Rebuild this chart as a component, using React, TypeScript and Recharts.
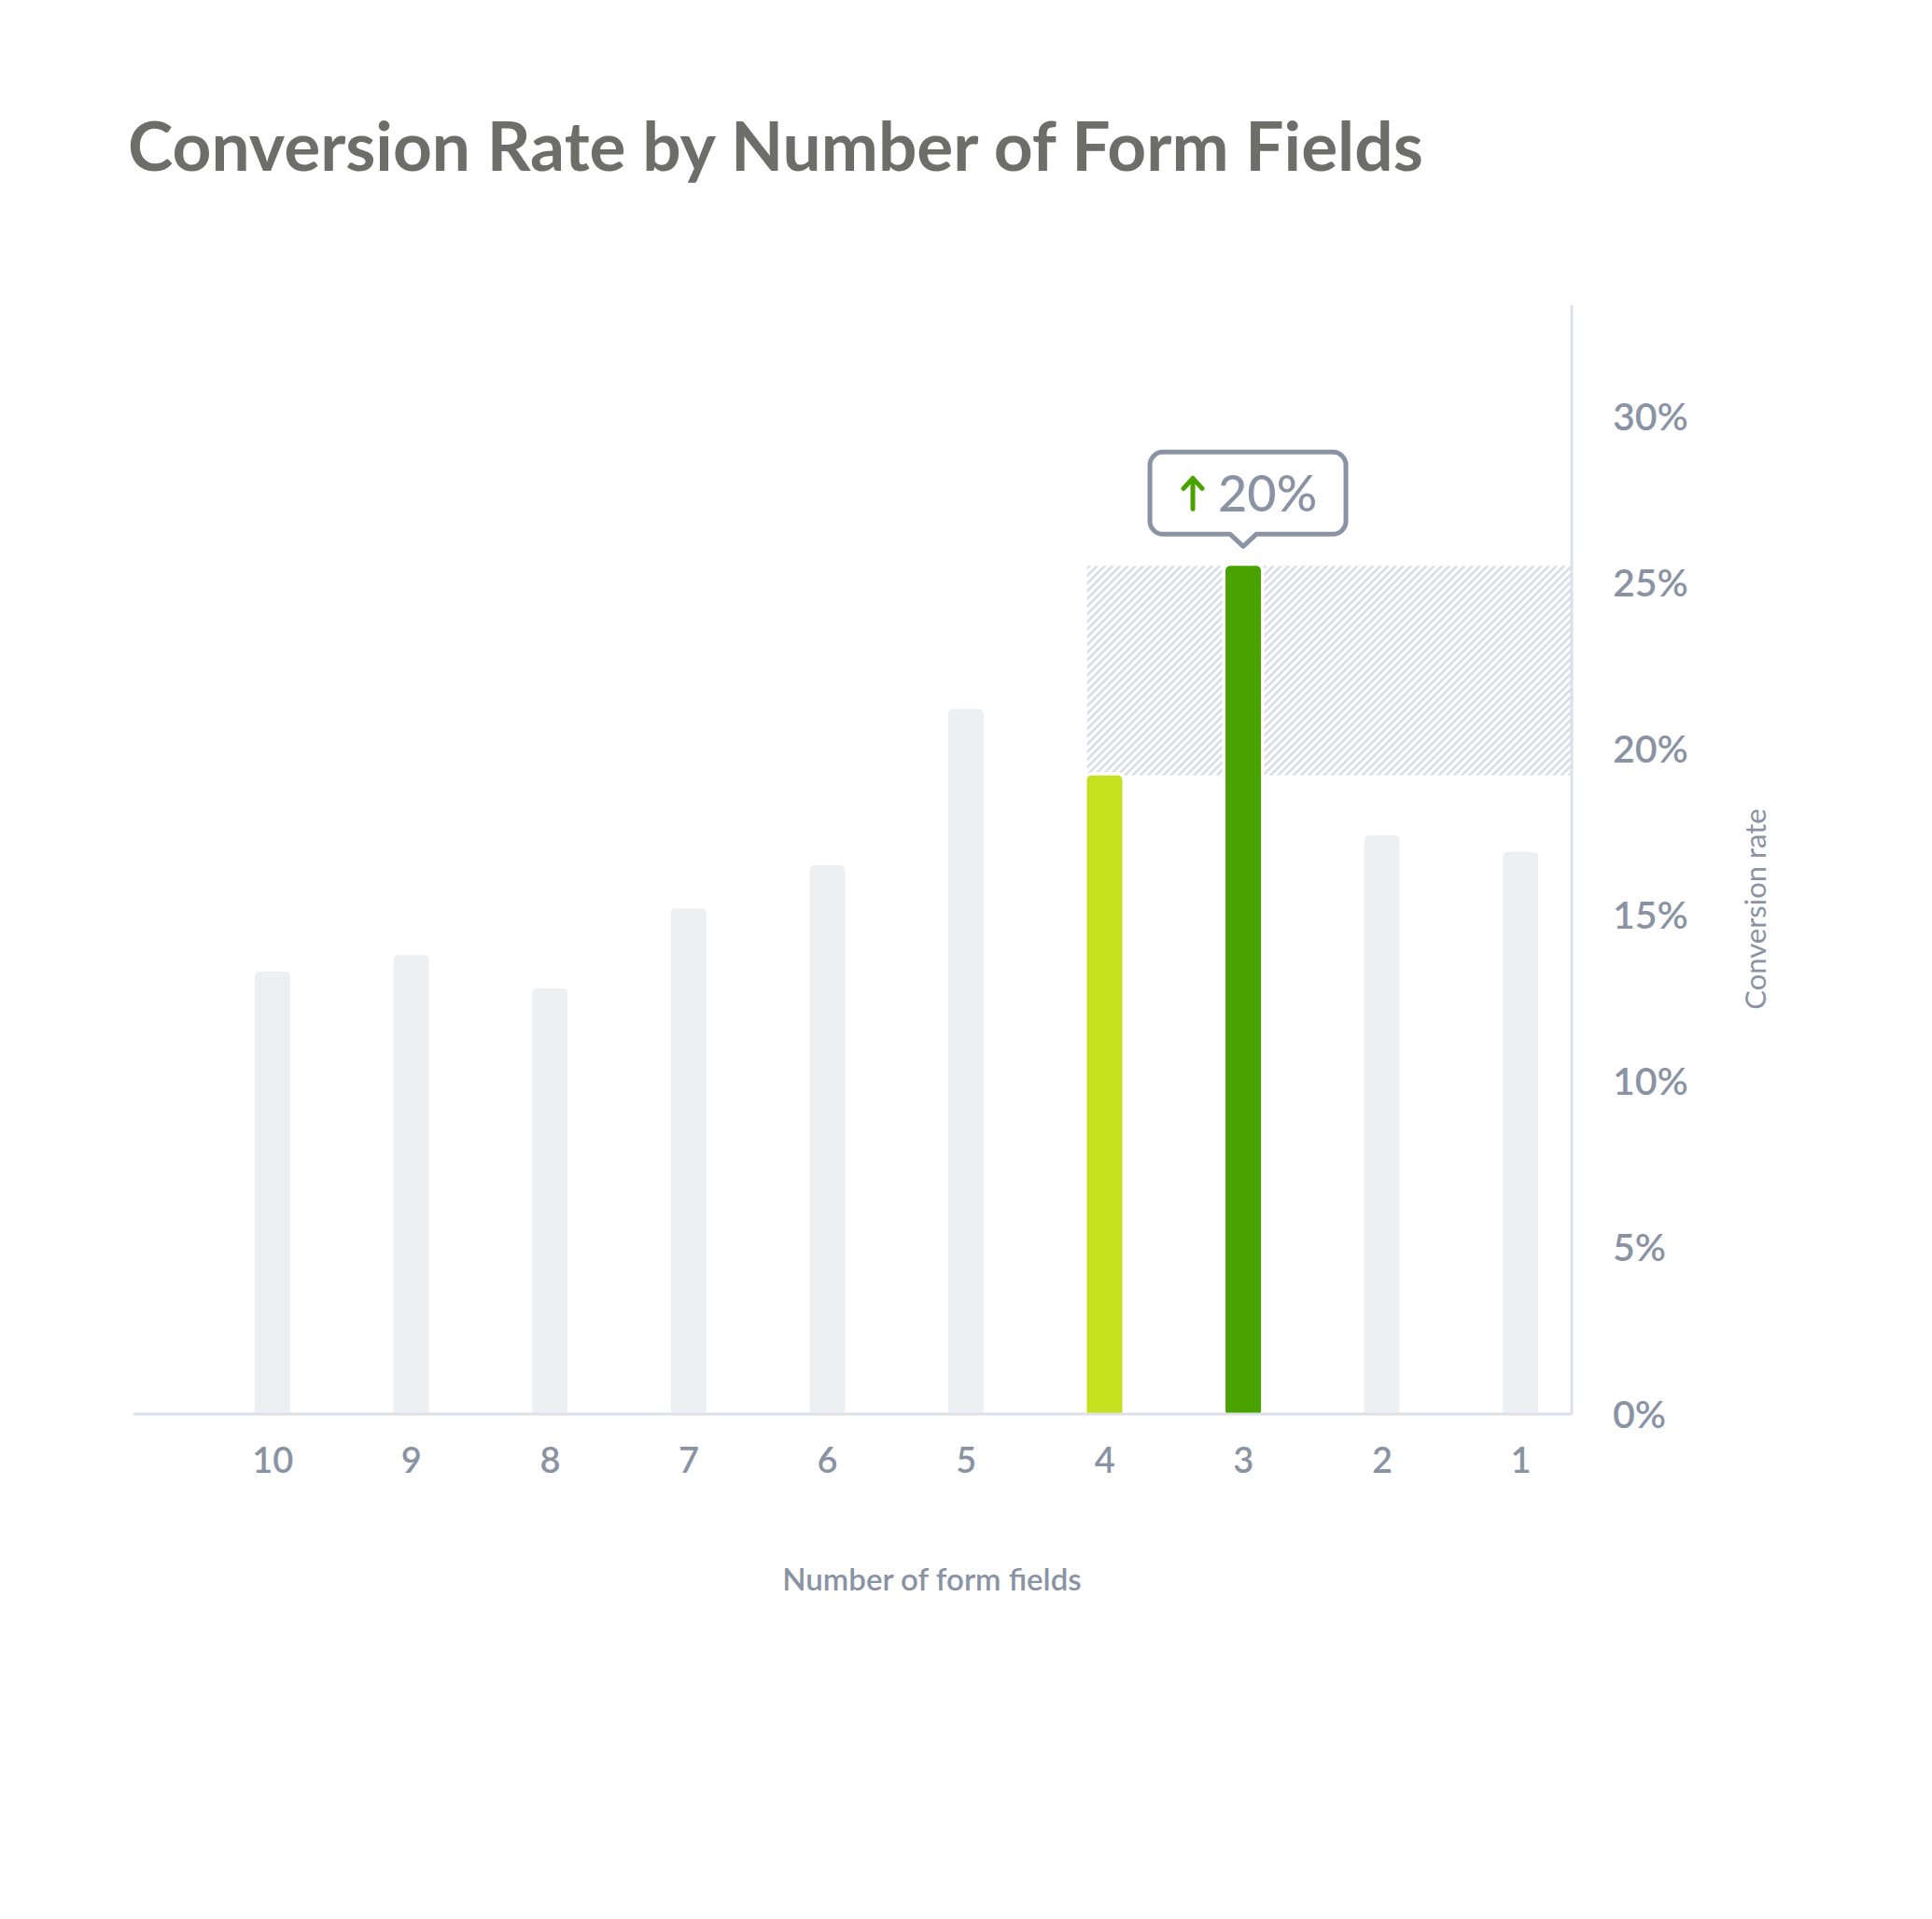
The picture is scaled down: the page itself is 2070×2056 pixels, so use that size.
import React from 'react';
import { BarChart, Bar, XAxis, YAxis, Cell, LabelList, ReferenceArea } from 'recharts';

// ---- data ----
const fields = [10, 9, 8, 7, 6, 5, 4, 3, 2, 1];
const rates = [13.3, 13.8, 12.8, 15.2, 16.5, 21.2, 19.2, 25.5, 17.4, 16.9];
const yTicks = [0, 5, 10, 15, 20, 25, 30];
const baselineField = 4;
const bestField = 3;
const upliftLabel = '20%';
const titleText = 'Conversion Rate by Number of Form Fields';
const xAxisTitle = 'Number of form fields';
const yAxisTitle = 'Conversion rate';

const data = fields.map((f, i) => ({ fields: f, rate: rates[i] }));

// ---- style ----
const FONT = "Lato, 'Open Sans', sans-serif";
const GREY_BAR = '#edf0f3';
const LIME = '#c5e01f';
const GREEN = '#48a200';
const AXIS = '#dde0e8';
const LABEL = '#8a93a4';
const TITLE = '#6d6d69';

const colorFor = (f: number) => (f === bestField ? GREEN : f === baselineField ? LIME : GREY_BAR);

const roundedPath = (x: number, y: number, w: number, h: number, rt: number, rb: number) =>
  `M ${x + rt} ${y} H ${x + w - rt} A ${rt} ${rt} 0 0 1 ${x + w} ${y + rt} V ${y + h - rb} ` +
  (rb > 0 ? `A ${rb} ${rb} 0 0 1 ${x + w - rb} ${y + h} ` : '') +
  `H ${x + rb} ` +
  (rb > 0 ? `A ${rb} ${rb} 0 0 1 ${x} ${y + h - rb} ` : '') +
  `V ${y + rt} A ${rt} ${rt} 0 0 1 ${x + rt} ${y} Z`;

const BarShape = (props: any) => {
  const { x, y, width, height, fill, payload } = props;
  if (width == null || height == null || height <= 0) return null;
  const hl = payload && (payload.fields === bestField || payload.fields === baselineField);
  const g = 3.5;
  return (
    <g>
      {hl ? <path d={roundedPath(x - g, y - g, width + 2 * g, height + g, 5 + g, 0)} fill="#ffffff" /> : null}
      <path d={roundedPath(x, y, width, height, 5, 3)} fill={fill} />
    </g>
  );
};

const Callout = (props: any) => {
  const { x, y, width, index } = props;
  if (data[index] == null || data[index].fields !== bestField) return null;
  const cx = x + width / 2 + 5;
  const by = y - 34;
  const w = 210;
  const h = 88;
  const r = 14;
  const pw = 14;
  const ph = 13;
  const l = cx - w / 2;
  const rr = cx + w / 2;
  const t = by - h;
  const tipX = x + width / 2;
  const d = `M ${l + r} ${t} H ${rr - r} A ${r} ${r} 0 0 1 ${rr} ${t + r} V ${by - r} A ${r} ${r} 0 0 1 ${rr - r} ${by} H ${tipX + pw} L ${tipX} ${by + ph} L ${tipX - pw} ${by} H ${l + r} A ${r} ${r} 0 0 1 ${l} ${by - r} V ${t + r} A ${r} ${r} 0 0 1 ${l + r} ${t} Z`;
  const ax = cx - 59;
  const aTop = y - 94;
  const aBot = y - 61;
  return (
    <g>
      <path d={d} fill="#ffffff" stroke={LABEL} strokeWidth={5} strokeLinejoin="round" />
      <path
        d={`M ${ax} ${aBot} V ${aTop} M ${ax - 10} ${aTop + 11} L ${ax} ${aTop} L ${ax + 10} ${aTop + 11}`}
        fill="none"
        stroke={GREEN}
        strokeWidth={5}
        strokeLinecap="round"
        strokeLinejoin="round"
      />
      <text x={cx - 32} y={y - 58} fill={LABEL} fontFamily={FONT} fontSize={54} fontWeight={500}>
        {upliftLabel}
      </text>
    </g>
  );
};

const XTitle = (props: any) => {
  const vb = props.viewBox;
  return (
    <text
      x={vb.x + vb.width / 2 + 85}
      y={vb.y + 189}
      textAnchor="middle"
      fill={LABEL}
      fontFamily={FONT}
      fontSize={33}
      fontWeight={600}
    >
      {xAxisTitle}
    </text>
  );
};

const YTitle = (props: any) => {
  const vb = props.viewBox;
  const x = vb.x + 196;
  const y = vb.y + vb.height / 2 + 53;
  return (
    <text
      x={x}
      y={y}
      transform={`rotate(-90, ${x}, ${y})`}
      textAnchor="middle"
      dominantBaseline="central"
      fill={LABEL}
      fontFamily={FONT}
      fontSize={31}
      fontWeight={400}
    >
      {yAxisTitle}
    </text>
  );
};

export default function App() {
  const hatchLow = rates[fields.indexOf(baselineField)];
  const hatchHigh = rates[fields.indexOf(bestField)];
  return (
    <div style={{ position: 'absolute', left: 0, top: 0, width: 2070, height: 2056, background: '#ffffff' }}>
      <svg width={2070} height={260} style={{ position: 'absolute', left: 0, top: 0 }}>
        <defs>
          <pattern id="hatch" width="5.8" height="5.8" patternUnits="userSpaceOnUse" patternTransform="rotate(45)">
            <rect width="5.8" height="5.8" fill="#ffffff" />
            <line x1="1.3" y1="0" x2="1.3" y2="5.8" stroke="#d4d9e4" strokeWidth="2.4" />
          </pattern>
        </defs>
        <text x={137} y={183} fill={TITLE} fontFamily={FONT} fontSize={73} fontWeight={700}>
          {titleText}
        </text>
      </svg>
      <div style={{ position: 'absolute', left: 0, top: 0 }}>
        <BarChart
          width={2070}
          height={2056}
          data={data}
          margin={{ top: 327, left: 143, right: 126, bottom: 321 }}
        >
          <XAxis
            dataKey="fields"
            type="number"
            domain={[0.633, 11.005]}
            reversed
            allowDataOverflow
            ticks={fields}
            interval={0}
            height={220}
            axisLine={{ stroke: AXIS, strokeWidth: 3 }}
            tickLine={false}
            tickSize={0}
            tickMargin={36}
            tick={{ fill: LABEL, fontSize: 38, fontFamily: FONT, fontWeight: 600 }}
            label={<XTitle />}
          />
          <YAxis
            orientation="right"
            domain={[0, 33.34]}
            ticks={yTicks}
            interval={0}
            width={260}
            axisLine={{ stroke: AXIS, strokeWidth: 3 }}
            tickLine={false}
            tickSize={0}
            tickMargin={44}
            tickFormatter={(v: number) => `${v}%`}
            tick={{ fill: LABEL, fontSize: 41, fontFamily: FONT, fontWeight: 600, textAnchor: 'start' }}
            label={<YTitle />}
          />
          <ReferenceArea
            x1={4.128}
            x2={0.633}
            y1={hatchLow}
            y2={hatchHigh}
            fill="url(#hatch)"
            fillOpacity={1}
            stroke="none"
            ifOverflow="visible"
          />
          <Bar dataKey="rate" barSize={38} shape={<BarShape />} isAnimationActive={false}>
            {data.map((d) => (
              <Cell key={d.fields} fill={colorFor(d.fields)} />
            ))}
            <LabelList dataKey="rate" content={<Callout />} />
          </Bar>
        </BarChart>
      </div>
    </div>
  );
}
